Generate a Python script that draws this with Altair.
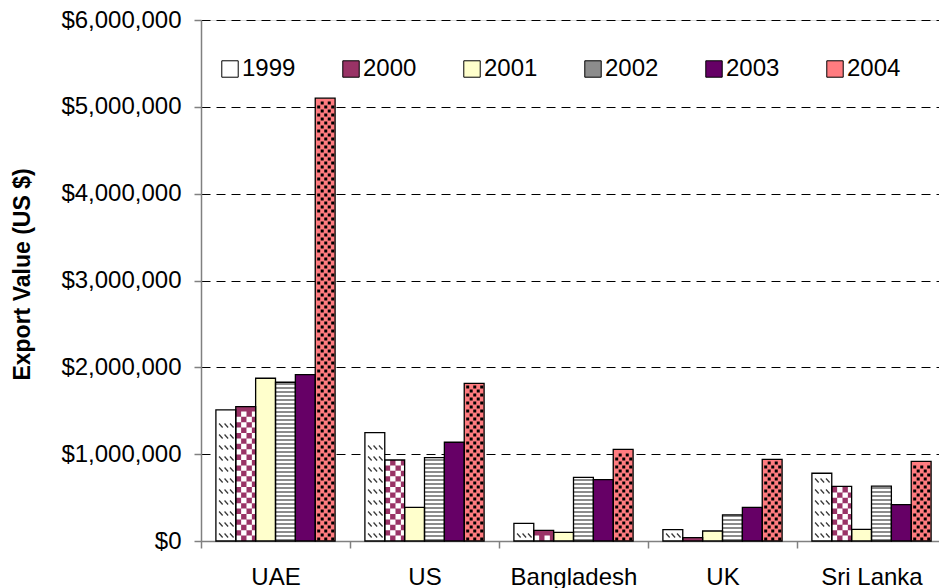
import altair as alt
import pandas as pd

# ---- data -------------------------------------------------------------
COUNTRIES = ["UAE", "US", "Bangladesh", "UK", "Sri Lanka"]
YEARS = ["1999", "2000", "2001", "2002", "2003", "2004"]

EXPORTS_1999 = [1510000, 1247000, 204000, 130000, 780000]
EXPORTS_2000 = [1547000, 933000, 123000, 40000, 630000]
EXPORTS_2001 = [1874000, 388000, 100000, 115000, 135000]
EXPORTS_2002 = [1828000, 960000, 733000, 300000, 633000]
EXPORTS_2003 = [1916000, 1137000, 706000, 388000, 420000]
EXPORTS_2004 = [5100000, 1816000, 1056000, 940000, 918000]

SERIES = dict(zip(YEARS, [EXPORTS_1999, EXPORTS_2000, EXPORTS_2001,
                          EXPORTS_2002, EXPORTS_2003, EXPORTS_2004]))

Y_TICKS = [0, 1000000, 2000000, 3000000, 4000000, 5000000, 6000000]

# base fill of each series (patterns are drawn on top)
BASE_COLORS = ["#ffffff", "#993366", "#ffffcc", "#8c8c8c", "#660066", "#ff7c80"]

# ---- layout -----------------------------------------------------------
FONT = "Liberation Sans"
PLOT_W, PLOT_H = 738, 521
X_RANGE = 745                      # last category runs past the right edge
Y_MAX = 6000000
BAND = X_RANGE / len(COUNTRIES)
BAR_W = BAND / (len(YEARS) + 2 * 0.75)
SYM = BAR_W ** 2                   # custom symbol paths span [-1, 1] -> one bar width
PX = Y_MAX / PLOT_H                # value units per pixel

rows = [dict(country=c, year=y, value=v)
        for y in YEARS for c, v in zip(COUNTRIES, SERIES[y])]
bars = pd.DataFrame(rows)


def pattern_rows(year, period_px, full_only=True):
    """Rows of a fill texture stacked from the bar's base to its top."""
    step = period_px * PX
    out = []
    for c, v in zip(COUNTRIES, SERIES[year]):
        k = 0
        while (k + 1) * step <= v or (not full_only and k * step < v):
            out.append(dict(country=c, year=year, lo=k * step,
                            mid=(k + 0.5) * step, hi=min((k + 1) * step, v),
                            parity="a" if k % 2 == 0 else "b"))
            k += 1
    return pd.DataFrame(out)


x_scale = alt.Scale(domain=COUNTRIES, range=[0, X_RANGE],
                    paddingInner=0, paddingOuter=0)
off_scale = alt.Scale(domain=YEARS, paddingInner=0, paddingOuter=0.75)
y_scale = alt.Scale(domain=[0, Y_MAX], nice=False, zero=True)

x_axis = alt.Axis(title=None, tickBand="extent", labelAngle=0,
                  labelFontSize=24, labelPadding=17, labelColor="black",
                  labelFont=FONT,
                  domainColor="#808080", domainWidth=1.5,
                  tickColor="#808080", tickWidth=1.5, tickSize=7)
y_axis = alt.Axis(title="Export Value (US $)", values=Y_TICKS, format="$,.0f",
                  labelFontSize=24, labelFont=FONT, labelColor="black",
                  labelPadding=13, tickSize=7, tickColor="#808080",
                  tickWidth=1.5, domainColor="#808080", domainWidth=1.5,
                  titleFont=FONT, titleFontSize=23, titleFontWeight="bold",
                  titleColor="black", titlePadding=26, titleY=254,
                  grid=True, gridColor="black", gridDash=[9, 6], gridWidth=1,
                  gridOpacity={"condition": {"test": "datum.value === 0",
                                             "value": 0}, "value": 1})


def enc_x():
    return alt.X("country:N", scale=x_scale, sort=COUNTRIES, axis=x_axis)


def enc_off():
    return alt.XOffset("year:N", scale=off_scale, sort=YEARS)


def enc_y(field):
    return alt.Y(f"{field}:Q", scale=y_scale, axis=y_axis)


# ---- base fills -------------------------------------------------------
base = alt.Chart(bars).mark_bar().encode(
    x=enc_x(), xOffset=enc_off(), y=enc_y("value"),
    fill=alt.Fill("year:N", sort=YEARS,
                  scale=alt.Scale(domain=YEARS, range=BASE_COLORS),
                  legend=alt.Legend(title=None, orient="none",
                                    direction="horizontal", columns=6,
                                    legendX=17, legendY=37, padding=0,
                                    symbolType="square", symbolSize=270,
                                    symbolStrokeColor="black",
                                    symbolStrokeWidth=1,
                                    labelFontSize=24, labelFont=FONT,
                                    labelColor="black", labelOffset=0,
                                    columnPadding=43)),
)

# ---- textures ---------------------------------------------------------
DASH_PATH = ("M-0.68,-0.2L-0.32,0.2 M-0.13,-0.2L0.23,0.2 "
             "M0.42,-0.2L0.78,0.2")
CHECK_A = "M-1,-0.27H-0.46V0.27H-1Z M0.08,-0.27H0.62V0.27H0.08Z"
CHECK_B = "M-0.46,-0.27H0.08V0.27H-0.46Z M0.62,-0.27H1V0.27H0.62Z"


def dots(centers):
    return " ".join(f"M{c - 0.15:.2f},-0.15H{c + 0.15:.2f}V0.15H{c - 0.15:.2f}Z"
                    for c in centers)


DOTS_A = dots([-0.65, 0.06, 0.76])
DOTS_B = dots([-0.3, 0.41])


def texture(df, shape, filled, color, width=1.0):
    props = dict(shape=shape, size=SYM, opacity=1, filled=filled)
    if filled:
        props.update(fill=color, strokeWidth=0)
    else:
        props.update(stroke=color, strokeWidth=width)
    return alt.Chart(df).mark_point(**props).encode(
        x=enc_x(), xOffset=enc_off(), y=enc_y("mid"))


dash_rows = pattern_rows("1999", 11)
check_rows = pattern_rows("2000", 5.4)
dot_rows = pattern_rows("2004", 4)
stripe_rows = pattern_rows("2002", 4, full_only=False)
stripe_rows = stripe_rows[stripe_rows["mid"] < stripe_rows["hi"]]

dashes = texture(dash_rows, DASH_PATH, False, "#3a3a3a", 1.3)
check_a = texture(check_rows[check_rows.parity == "a"], CHECK_A, True, "white")
check_b = texture(check_rows[check_rows.parity == "b"], CHECK_B, True, "white")
dots_a = texture(dot_rows[dot_rows.parity == "a"], DOTS_A, True, "black")
dots_b = texture(dot_rows[dot_rows.parity == "b"], DOTS_B, True, "black")

stripes = alt.Chart(stripe_rows).mark_bar(color="white").encode(
    x=enc_x(), xOffset=enc_off(), y=enc_y("mid"), y2="hi:Q")

# ---- outlines on top --------------------------------------------------
outline = alt.Chart(bars).mark_bar(fillOpacity=0, stroke="black",
                                   strokeWidth=1.3).encode(
    x=enc_x(), xOffset=enc_off(), y=enc_y("value"))

chart = alt.layer(
    base, dashes, check_a, check_b, stripes, dots_a, dots_b, outline
).properties(
    width=PLOT_W, height=PLOT_H,
    autosize=alt.AutoSizeParams(type="none"),
    padding={"left": 201, "top": 20, "right": 0, "bottom": 47},
).configure_view(strokeWidth=0).configure(background="white")

chart.save("out.html", embed_options={"renderer": "svg", "actions": False})
